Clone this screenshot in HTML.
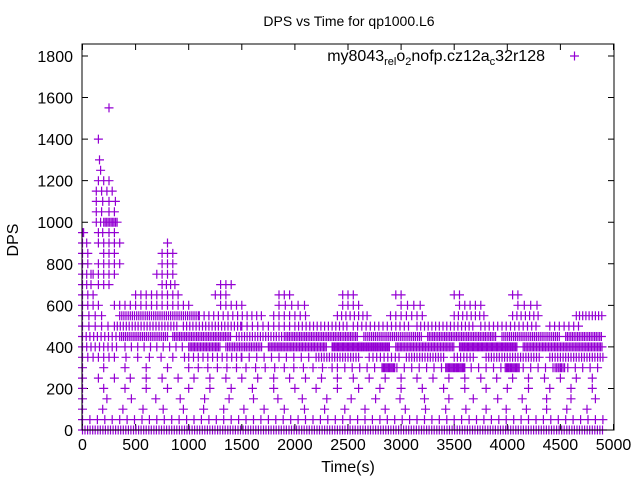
<!DOCTYPE html>
<html><head><meta charset="utf-8"><style>
body{margin:0;background:#fff}
svg{display:block;font-family:"Liberation Sans",sans-serif}
</style></head><body>
<svg id="chart" width="640" height="480">
<rect width="640" height="480" fill="#fff"/>
<text x="349" y="26" font-size="14" text-anchor="middle">DPS vs Time for qp1000.L6</text>
<text x="18" y="240" font-size="16" text-anchor="middle" transform="rotate(-90 18 240)">DPS</text>
<text x="348" y="472" font-size="16" text-anchor="middle">Time(s)</text>
<g id="axes"></g>
<g id="marks"></g>
<g>
<text x="545" y="61" font-size="16" text-anchor="end">my8043<tspan font-size="11" dy="4">rel</tspan><tspan dy="-4">o</tspan><tspan font-size="11" dy="4">2</tspan><tspan dy="-4">nofp.cz12a</tspan><tspan font-size="11" dy="4">c</tspan><tspan dy="-4">32r128</tspan></text>
<path d="M570 56h9M574.5 51.5v9" stroke="#9400d3" stroke-width="1.2"/>
</g>
<rect x="82" y="44" width="532" height="386" fill="none" stroke="#000" stroke-width="1"/>
</svg>
<script>
const xTicks=[0,500,1000,1500,2000,2500,3000,3500,4000,4500,5000];
const yTicks=[0,200,400,600,800,1000,1200,1400,1600,1800];
const levels=[0,50,100,150,200,250,300,350,400,450,500,550,600,650,700,750,800,850,900,950,1000,1050,1100,1150,1200,1250,1300,1400,1550];
const runs=[
[[0,4900,24]],
[[0,4900,70]],
[[0,4900,190]],
[[0,4900,230]],
[[0,4900,200]],
[[0,4900,150]],
[[0,1000,200],[1000,2400,90],[2400,4900,70],[2820,2950,12],[3420,3600,12],[3980,4120,12],[4450,4550,15]],
[[0,300,50],[300,1000,110],[1000,1500,45],[1500,2200,70],[2200,2600,25],[2700,3000,35],[3050,3400,25],[3500,3700,30],[3800,4300,25],[4400,4900,25]],
[[0,350,40],[400,1000,60],[1000,1300,14],[1350,1700,16],[1750,2300,14],[2350,2900,12],[2950,3500,14],[3550,4100,12],[4150,4900,14]],
[[0,350,35],[350,800,18],[850,1400,16],[1450,1900,25],[1900,2600,16],[2650,3200,18],[3250,3900,16],[3950,4500,18],[4550,4900,16]],
[[0,300,60],[300,900,28],[950,1500,30],[1500,2000,50],[2000,2500,35],[2550,3100,40],[3150,3700,35],[3750,4300,40],[4400,4700,45]],
[[0,200,60],[350,1100,20],[1100,1700,45],[1800,2100,50],[2400,2700,40],[2900,3200,50],[3500,3800,40],[4050,4300,40],[4650,4900,30]],
[[0,150,50],[300,700,50],[750,1000,50],[1300,1500,50],[1850,2100,60],[2450,2600,50],[3000,3200,60],[3550,3750,50],[4100,4300,60]],
[[0,120,50],[500,700,50],[750,900,50],[1250,1350,50],[1850,1950,50],[2450,2550,50],[2950,3000,50],[3500,3550,50],[4050,4100,50]],
[[0,100,40],[150,250,50],[750,900,40],[1300,1400,50]],
[[0,80,40],[100,200,50],[250,300,50],[700,850,50]],
[[0,60,50],[150,250,50],[300,380,50],[750,850,50]],
[[0,60,50],[200,300,50],[750,850,50]],
[[0,40,40],[150,250,50],[300,360,50],[800,830,40]],
[[0,10,10],[150,200,40],[250,300,50]],
[[130,180,40],[200,330,14]],
[[130,200,50],[250,320,50]],
[[130,350,60]],
[[130,180,50],[230,280,50]],
[[150,200,50],[250,280,50]],
[[170,200,40]],
[[160,160,1]],
[[150,150,1]],
[[250,250,1]]
];
const NS="http://www.w3.org/2000/svg";
const X0=82.5,X1=613.5,Y0=430,Y1=56;
const xs=t=>X0+(t/5000)*(X1-X0);
const ys=v=>Y0-(v/1800)*(Y0-Y1);
const axes=document.getElementById('axes');
xTicks.forEach(t=>{
  const x=xs(t);
  const p=document.createElementNS(NS,'path');
  p.setAttribute('d',`M${x} 430v-6M${x} 44v6`);p.setAttribute('stroke','#000');
  
  
  axes.appendChild(p);
  const tx=document.createElementNS(NS,'text');
  tx.setAttribute('x',x);tx.setAttribute('y',450);tx.setAttribute('font-size','16');tx.setAttribute('text-anchor','middle');
  tx.textContent=t;
  
  
  axes.appendChild(tx);
});
yTicks.forEach(v=>{
  const y=ys(v);
  const p=document.createElementNS(NS,'path');
  p.setAttribute('d',`M82 ${y}h6M614 ${y}h-6`);p.setAttribute('stroke','#000');
  
  
  axes.appendChild(p);
  const tx=document.createElementNS(NS,'text');
  tx.setAttribute('x',73);tx.setAttribute('y',y+6);tx.setAttribute('font-size','16');tx.setAttribute('text-anchor','end');
  tx.textContent=v;
  
  
  axes.appendChild(tx);
});
let d='';
levels.forEach((v,i)=>{
  const y=ys(v);
  runs[i].forEach(([a,b,s])=>{
    for(let t=a;t<=b;t+=s){const x=xs(t);d+=`M${(x-4.5).toFixed(1)} ${y.toFixed(1)}h9M${x.toFixed(1)} ${(y-4.5).toFixed(1)}v9`;}
  });
});
const mp=document.createElementNS(NS,'path');
mp.setAttribute('d',d);mp.setAttribute('stroke','#9400d3');mp.setAttribute('stroke-width','1.2');mp.setAttribute('fill','none');


document.getElementById('marks').appendChild(mp);
</script>
</body></html>
